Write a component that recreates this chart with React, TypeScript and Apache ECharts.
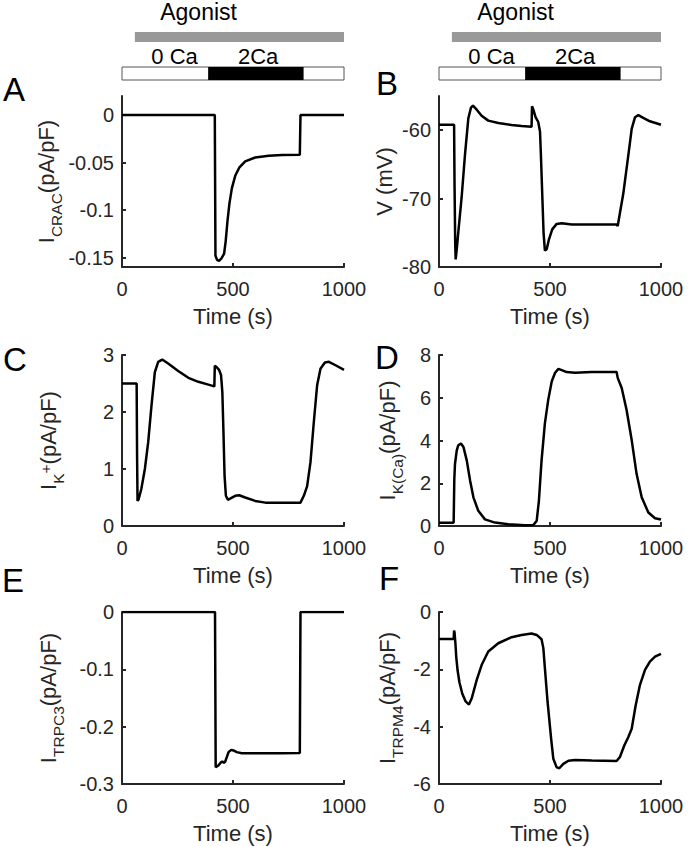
import React, { useEffect, useRef } from "react";
import * as echarts from "echarts";

// ---------- data ----------
const timeTicks = [0, 500, 1000];
const agonistPeriod = [58, 1000];
const ca2Period = [388, 818];

const tA = [0, 418, 421, 428, 437, 448, 460, 467, 475, 484, 495, 510, 528, 555, 600, 661, 721, 801, 804, 1000];
const vA = [0, 0, -0.148, -0.1525, -0.1535, -0.151, -0.146, -0.133, -0.112, -0.093, -0.077, -0.064, -0.0555, -0.0488, -0.0447, -0.0429, -0.0422, -0.0419, 0, 0];
const yTicksA = [-0.15, -0.1, -0.05, 0];
const yLabelsA = ["-0.15", "-0.1", "-0.05", "0"];

const tB = [0, 68, 70, 73, 75, 80, 87, 102, 117, 132, 144, 153, 170, 192, 222, 267, 327, 372, 417, 419, 425, 435, 447, 455, 459, 465, 471, 477, 485, 495, 510, 530, 553, 598, 688, 800, 805, 815, 830, 853, 868, 883, 898, 920, 950, 1000];
const vB = [-59.2, -59.2, -68, -76.5, -78.9, -77.4, -74.9, -69.8, -63.6, -58.3, -56.7, -56.4, -57.0, -57.9, -58.6, -58.95, -59.24, -59.4, -59.5, -56.5, -57.0, -58.1, -58.8, -60.2, -63.6, -69.3, -75, -77.6, -77.4, -76, -74.5, -73.7, -73.6, -73.8, -73.8, -73.8, -74.0, -72.1, -69.3, -63.6, -59.8, -58.1, -57.8, -58.2, -58.7, -59.2];
const yTicksB = [-80, -70, -60];
const yLabelsB = ["-80", "-70", "-60"];

const tC = [0, 66, 68, 70, 75, 87, 103, 118, 133, 148, 163, 181, 208, 253, 299, 344, 389, 416, 418, 426, 437, 446, 452, 457, 462, 468, 477, 487, 510, 528, 555, 600, 646, 721, 804, 819, 834, 849, 864, 879, 894, 914, 932, 962, 1000];
const vC = [2.5, 2.5, 1.2, 0.44, 0.47, 0.65, 1.0, 1.47, 2.12, 2.7, 2.88, 2.92, 2.85, 2.72, 2.6, 2.53, 2.48, 2.45, 2.81, 2.79, 2.74, 2.65, 2.35, 1.65, 0.88, 0.53, 0.46, 0.48, 0.53, 0.54, 0.5, 0.44, 0.41, 0.41, 0.41, 0.53, 0.7, 1.12, 1.82, 2.47, 2.76, 2.87, 2.88, 2.82, 2.74];
const yTicksC = [0, 1, 2, 3];
const yLabelsC = ["0", "1", "2", "3"];

const tD = [0, 66, 67, 69, 72, 80, 87, 99, 110, 125, 140, 155, 177, 207, 252, 312, 387, 425, 440, 450, 462, 477, 492, 508, 523, 538, 553, 575, 613, 688, 800, 805, 823, 845, 868, 890, 913, 943, 973, 1000];
const vD = [0.15, 0.15, 0.15, 2.2, 2.9, 3.54, 3.78, 3.86, 3.7, 3.07, 2.13, 1.34, 0.71, 0.31, 0.16, 0.08, 0.03, 0.05, 0.24, 1.18, 3.07, 4.8, 5.9, 6.77, 7.17, 7.35, 7.29, 7.2, 7.17, 7.2, 7.2, 6.93, 6.46, 5.43, 4.02, 2.44, 1.34, 0.63, 0.36, 0.3];
const yTicksD = [0, 2, 4, 6, 8];
const yLabelsD = ["0", "2", "4", "6", "8"];

const tE = [0, 419, 422, 434, 446, 452, 459, 465, 472, 480, 492, 502, 517, 540, 600, 721, 801, 804, 1000];
const vE = [0, 0, -0.2708, -0.2678, -0.262, -0.2608, -0.2632, -0.2608, -0.2532, -0.2444, -0.2404, -0.2415, -0.2444, -0.2462, -0.2462, -0.2462, -0.246, 0, 0];
const yTicksE = [-0.3, -0.2, -0.1, 0];
const yLabelsE = ["-0.3", "-0.2", "-0.1", "0"];

const tF = [0, 66, 68, 70, 74, 78, 84, 92, 105, 120, 135, 147, 170, 192, 222, 267, 327, 372, 417, 440, 462, 470, 477, 489, 505, 515, 530, 542, 560, 583, 613, 688, 800, 815, 835, 853, 868, 886, 905, 928, 950, 973, 1000];
const vF = [-0.94, -0.94, -0.65, -0.72, -1.1, -1.6, -2.05, -2.45, -2.85, -3.12, -3.23, -3.02, -2.37, -1.85, -1.38, -1.09, -0.88, -0.8, -0.75, -0.8, -0.95, -1.26, -1.96, -3.13, -4.42, -5.12, -5.42, -5.45, -5.3, -5.19, -5.16, -5.18, -5.2, -5.06, -4.65, -4.36, -4.07, -3.25, -2.55, -2.02, -1.73, -1.56, -1.46];
const yTicksF = [-6, -4, -2, 0];
const yLabelsF = ["-6", "-4", "-2", "0"];

// ---------- style / layout ----------
const FONT = "'Liberation Sans', Arial, Helvetica, sans-serif";
const AX = "#262626";

const panels = [
  { letter: "A", left: 122, top: 96, h: 171, min: -0.16, max: 0.02, ticks: yTicksA, labels: yLabelsA, t: tA, v: vA, name: "{m|I}{s|CRAC}{m|(pA/pF)}", gap: 59, lx: 3, ly: 73 },
  { letter: "B", left: 439, top: 96, h: 171, min: -80, max: -55, ticks: yTicksB, labels: yLabelsB, t: tB, v: vB, name: "{m|V (mV)}", gap: 40, lx: 376, ly: 67 },
  { letter: "C", left: 122, top: 355, h: 171, min: 0, max: 3, ticks: yTicksC, labels: yLabelsC, t: tC, v: vC, name: "{m|I}{s|K}{p|+}{m|(pA/pF)}", gap: 59, lx: 3, ly: 343 },
  { letter: "D", left: 439, top: 355, h: 171, min: 0, max: 8, ticks: yTicksD, labels: yLabelsD, t: tD, v: vD, name: "{m|I}{s|K(Ca)}{m|(pA/pF)}", gap: 37, lx: 375, ly: 341 },
  { letter: "E", left: 122, top: 612, h: 172, min: -0.3, max: 0, ticks: yTicksE, labels: yLabelsE, t: tE, v: vE, name: "{m|I}{s|TRPC3}{m|(pA/pF)}", gap: 59, lx: 2, ly: 564 },
  { letter: "F", left: 439, top: 612, h: 172, min: -6, max: 0, ticks: yTicksF, labels: yLabelsF, t: tF, v: vF, name: "{m|I}{s|TRPM4}{m|(pA/pF)}", gap: 37, lx: 379, ly: 562 },
];

const plain = { fontWeight: 400, fontStyle: "normal", textBorderWidth: 0, textBorderColor: "transparent", textShadowBlur: 0, textShadowColor: "transparent" };
const richName = {
  m: { fontSize: 22, fontFamily: FONT, color: AX, lineHeight: 26, verticalAlign: "top", ...plain },
  s: { fontSize: 15.5, fontFamily: FONT, color: AX, lineHeight: 16, padding: [13, 0, 0, 0], verticalAlign: "top", ...plain },
  p: { fontSize: 15.5, fontFamily: FONT, color: AX, lineHeight: 16, verticalAlign: "top", ...plain },
};

function labelFor(ticks: number[], labels: string[], v: number) {
  for (let i = 0; i < ticks.length; i++) if (Math.abs(ticks[i] - v) < 1e-9) return labels[i];
  return "";
}

export default function App() {
  const ref = useRef<HTMLDivElement>(null);
  useEffect(() => {
    document.body.style.margin = "0";
    if (!ref.current) return;
    const chart = echarts.init(ref.current, undefined, { renderer: "svg" });
    const option: any = {
      animation: false,
      backgroundColor: "#ffffff",
      grid: panels.map((p) => ({ left: p.left, top: p.top, width: 222, height: p.h })),
      xAxis: panels.map((p, i) => ({
        type: "value",
        gridIndex: i,
        min: 0,
        max: 1000,
        axisLine: { show: true, onZero: false, lineStyle: { color: AX, width: 2 } },
        axisTick: { show: true, inside: true, length: 4, customValues: timeTicks, lineStyle: { color: AX, width: 2 } },
        axisLabel: { show: true, customValues: timeTicks, color: AX, fontSize: 20, fontFamily: FONT, margin: 12, formatter: (v: number) => String(v) },
        splitLine: { show: false },
        name: "Time (s)",
        nameLocation: "middle",
        nameGap: 38,
        nameTextStyle: { color: AX, fontSize: 22, fontFamily: FONT, ...plain },
      })),
      yAxis: panels.map((p, i) => ({
        type: "value",
        gridIndex: i,
        min: p.min,
        max: p.max,
        axisLine: { show: true, onZero: false, lineStyle: { color: AX, width: 2 } },
        axisTick: { show: true, inside: true, length: 4, customValues: p.ticks, lineStyle: { color: AX, width: 2 } },
        axisLabel: { show: true, customValues: p.ticks, color: AX, fontSize: 20, fontFamily: FONT, margin: 8, formatter: (v: number) => labelFor(p.ticks, p.labels, v) },
        splitLine: { show: false },
        name: p.name,
        nameLocation: "middle",
        nameRotate: 90,
        nameGap: p.gap,
        nameTextStyle: { color: AX, fontSize: 22, fontFamily: FONT, ...plain, rich: richName },
      })),
      series: panels.map((p, i) => ({
        type: "line",
        xAxisIndex: i,
        yAxisIndex: i,
        data: p.t.map((t, j) => [t, p.v[j]]),
        showSymbol: false,
        symbol: "none",
        smooth: false,
        lineStyle: { color: "#000000", width: 2.5 },
        silent: true,
      })),
    };
    chart.setOption(option);

    const graphics: any[] = [];
    [0, 1].forEach((ax) => {
      const px = (t: number) => chart.convertToPixel({ xAxisIndex: ax }, t) as number;
      graphics.push({ type: "rect", shape: { x: px(agonistPeriod[0]), y: 32, width: px(agonistPeriod[1]) - px(agonistPeriod[0]), height: 10 }, style: { fill: "#999999" } });
      graphics.push({ type: "rect", shape: { x: px(0), y: 67, width: px(1000) - px(0), height: 13 }, style: { fill: "#ffffff", stroke: "#555555", lineWidth: 1 } });
      graphics.push({ type: "rect", shape: { x: px(ca2Period[0]), y: 67, width: px(ca2Period[1]) - px(ca2Period[0]), height: 13 }, style: { fill: "#000000" } });
      graphics.push({ type: "text", style: { text: "Agonist", x: px(345), y: 12, fontSize: 23, fontFamily: FONT, fill: "#000", textAlign: "center", textVerticalAlign: "middle", verticalAlign: "middle" } });
      graphics.push({ type: "text", style: { text: "0 Ca", x: px(237), y: 56, fontSize: 22, fontFamily: FONT, fill: "#000", textAlign: "center", textVerticalAlign: "middle", verticalAlign: "middle" } });
      graphics.push({ type: "text", style: { text: "2Ca", x: px(613), y: 56, fontSize: 22, fontFamily: FONT, fill: "#000", textAlign: "center", textVerticalAlign: "middle", verticalAlign: "middle" } });
    });
    panels.forEach((p) => {
      graphics.push({ type: "text", style: { text: p.letter, x: p.lx, y: p.ly, fontSize: 33, fontFamily: FONT, fill: "#000", textAlign: "left", textVerticalAlign: "top", verticalAlign: "top" } });
    });
    chart.setOption({ graphic: graphics });

    return () => chart.dispose();
  }, []);
  return <div ref={ref} style={{ position: "absolute", left: 0, top: 0, width: 688, height: 847 }} />;
}
